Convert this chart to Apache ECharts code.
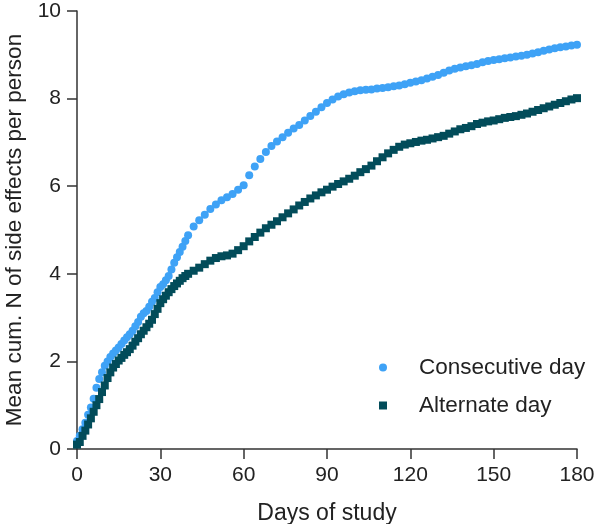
<!DOCTYPE html>
<html>
<head>
<meta charset="utf-8">
<script src="https://cdn.jsdelivr.net/npm/echarts@6/dist/echarts.min.js"></script>
<style>
  html, body { margin: 0; padding: 0; background: #fff; }
  #chart { width: 596px; height: 524px; }
</style>
</head>
<body>
<div id="chart"></div>
<script>
// days where a mean value was read (daily up to day 40, then every 2 days)
const days = [
  0, 1, 2, 3, 4, 5, 6, 7, 8, 9, 10, 11, 12, 13, 14, 15, 16, 17, 18, 19, 20,
  21, 22, 23, 24, 25, 26, 27, 28, 29, 30, 31, 32, 33, 34, 35, 36, 37, 38, 39, 40,
  42, 44, 46, 48, 50, 52, 54, 56, 58, 60, 62, 64, 66, 68, 70, 72, 74, 76, 78, 80,
  82, 84, 86, 88, 90, 92, 94, 96, 98, 100, 102, 104, 106, 108, 110, 112, 114, 116, 118, 120,
  122, 124, 126, 128, 130, 132, 134, 136, 138, 140, 142, 144, 146, 148, 150, 152, 154, 156, 158, 160,
  162, 164, 166, 168, 170, 172, 174, 176, 178, 180
];

const consecutiveDay = [
  0.18, 0.3, 0.45, 0.6, 0.78, 0.95, 1.15, 1.4, 1.6, 1.75, 1.9, 2.0, 2.1, 2.18, 2.25, 2.32, 2.4, 2.48, 2.55, 2.62, 2.7,
  2.8, 2.9, 3.02, 3.1, 3.15, 3.25, 3.36, 3.45, 3.58, 3.7, 3.76, 3.85, 3.95, 4.1, 4.25, 4.38, 4.5, 4.62, 4.75, 4.88,
  5.08, 5.22, 5.35, 5.48, 5.58, 5.68, 5.75, 5.82, 5.92, 6.02, 6.25, 6.45, 6.62, 6.78, 6.92, 7.02, 7.12, 7.22, 7.32, 7.4,
  7.5, 7.6, 7.7, 7.8, 7.9, 7.98, 8.05, 8.1, 8.14, 8.17, 8.19, 8.2, 8.21, 8.23, 8.24, 8.26, 8.28, 8.3, 8.33, 8.36,
  8.39, 8.42, 8.46, 8.5, 8.54, 8.59, 8.64, 8.68, 8.71, 8.74, 8.76, 8.79, 8.83, 8.86, 8.88, 8.9, 8.92, 8.94, 8.96, 8.98,
  9.0, 9.03, 9.06, 9.09, 9.12, 9.15, 9.17, 9.19, 9.21, 9.23
];

const alternateDay = [
  0.1, 0.16, 0.3, 0.42, 0.56, 0.7, 0.85, 1.0, 1.14, 1.3, 1.45, 1.62, 1.75, 1.86, 1.94, 2.02, 2.08, 2.15, 2.21, 2.28, 2.36,
  2.45, 2.53, 2.62, 2.7, 2.78, 2.86, 2.95, 3.08, 3.2, 3.33, 3.42, 3.5, 3.58, 3.65, 3.72, 3.78, 3.84, 3.9, 3.95, 4.0,
  4.07, 4.14, 4.22, 4.3, 4.36, 4.4, 4.42, 4.46, 4.54, 4.63, 4.74, 4.84, 4.94, 5.04, 5.12, 5.2, 5.29, 5.38, 5.47, 5.56,
  5.64, 5.72, 5.79, 5.86, 5.92, 5.99, 6.05, 6.11, 6.17, 6.24, 6.32, 6.39, 6.47, 6.57, 6.66, 6.75, 6.83, 6.9, 6.95, 6.98,
  7.01, 7.04, 7.06, 7.09, 7.12, 7.15, 7.2, 7.25, 7.3, 7.33, 7.37, 7.42, 7.45, 7.48, 7.5, 7.53, 7.56, 7.58, 7.6, 7.63,
  7.66, 7.7, 7.74, 7.78, 7.82, 7.86, 7.9, 7.94, 7.98, 8.01
];

const xTicks = { min: 0, max: 180, interval: 30 };
const yTicks = { min: 0, max: 10, interval: 2 };

const font = "'Liberation Sans', Arial, sans-serif";
const axisColor = '#333';
const square = 'path://M0,0H10V10H0Z';

const chart = echarts.init(document.getElementById('chart'));

const pairs = (ys) => days.map((d, i) => [d, ys[i]]);

const axisCommon = {
  axisLine: { show: true, lineStyle: { color: axisColor, width: 1.5 } },
  axisTick: { show: true, length: 10, lineStyle: { color: axisColor, width: 1.5 } },
  axisLabel: { color: '#222', fontSize: 21, fontFamily: font, margin: 16 },
  splitLine: { show: false },
  nameLocation: 'middle',
  nameTextStyle: { color: '#222', fontSize: 23, fontFamily: font }
};

chart.setOption({
  animation: false,
  backgroundColor: '#fff',
  grid: { left: 77, right: 19, top: 11, bottom: 75, containLabel: false, outerBoundsMode: 'none' },
  legend: {
    orient: 'vertical',
    // box starts at the left edge of the first icon
    left: 379,
    top: 356,
    padding: 0,
    itemWidth: 62,
    itemHeight: 8,
    itemGap: 15,
    symbolKeepAspect: true,
    textStyle: { color: '#222', fontSize: 22.5, fontFamily: font },
    data: [
      { name: 'Consecutive day', icon: 'circle' },
      { name: 'Alternate day', icon: square }
    ]
  },
  xAxis: Object.assign({}, axisCommon, {
    type: 'value',
    min: xTicks.min,
    max: xTicks.max,
    interval: xTicks.interval,
    name: 'Days of study',
    nameGap: 53
  }),
  yAxis: Object.assign({}, axisCommon, {
    type: 'value',
    min: yTicks.min,
    max: yTicks.max,
    interval: yTicks.interval,
    name: 'Mean cum. N of side effects per person',
    nameGap: 47,
    nameTextStyle: { color: '#222', fontSize: 22.5, fontFamily: font }
  }),
  series: [
    {
      name: 'Consecutive day',
      type: 'scatter',
      symbol: 'circle',
      symbolSize: 8,
      itemStyle: { color: '#3ea2f6', opacity: 1 },
      data: pairs(consecutiveDay)
    },
    {
      name: 'Alternate day',
      type: 'scatter',
      symbol: square,
      symbolSize: 8,
      itemStyle: { color: '#024c5a', opacity: 1 },
      data: pairs(alternateDay)
    }
  ]
});
</script>
</body>
</html>
